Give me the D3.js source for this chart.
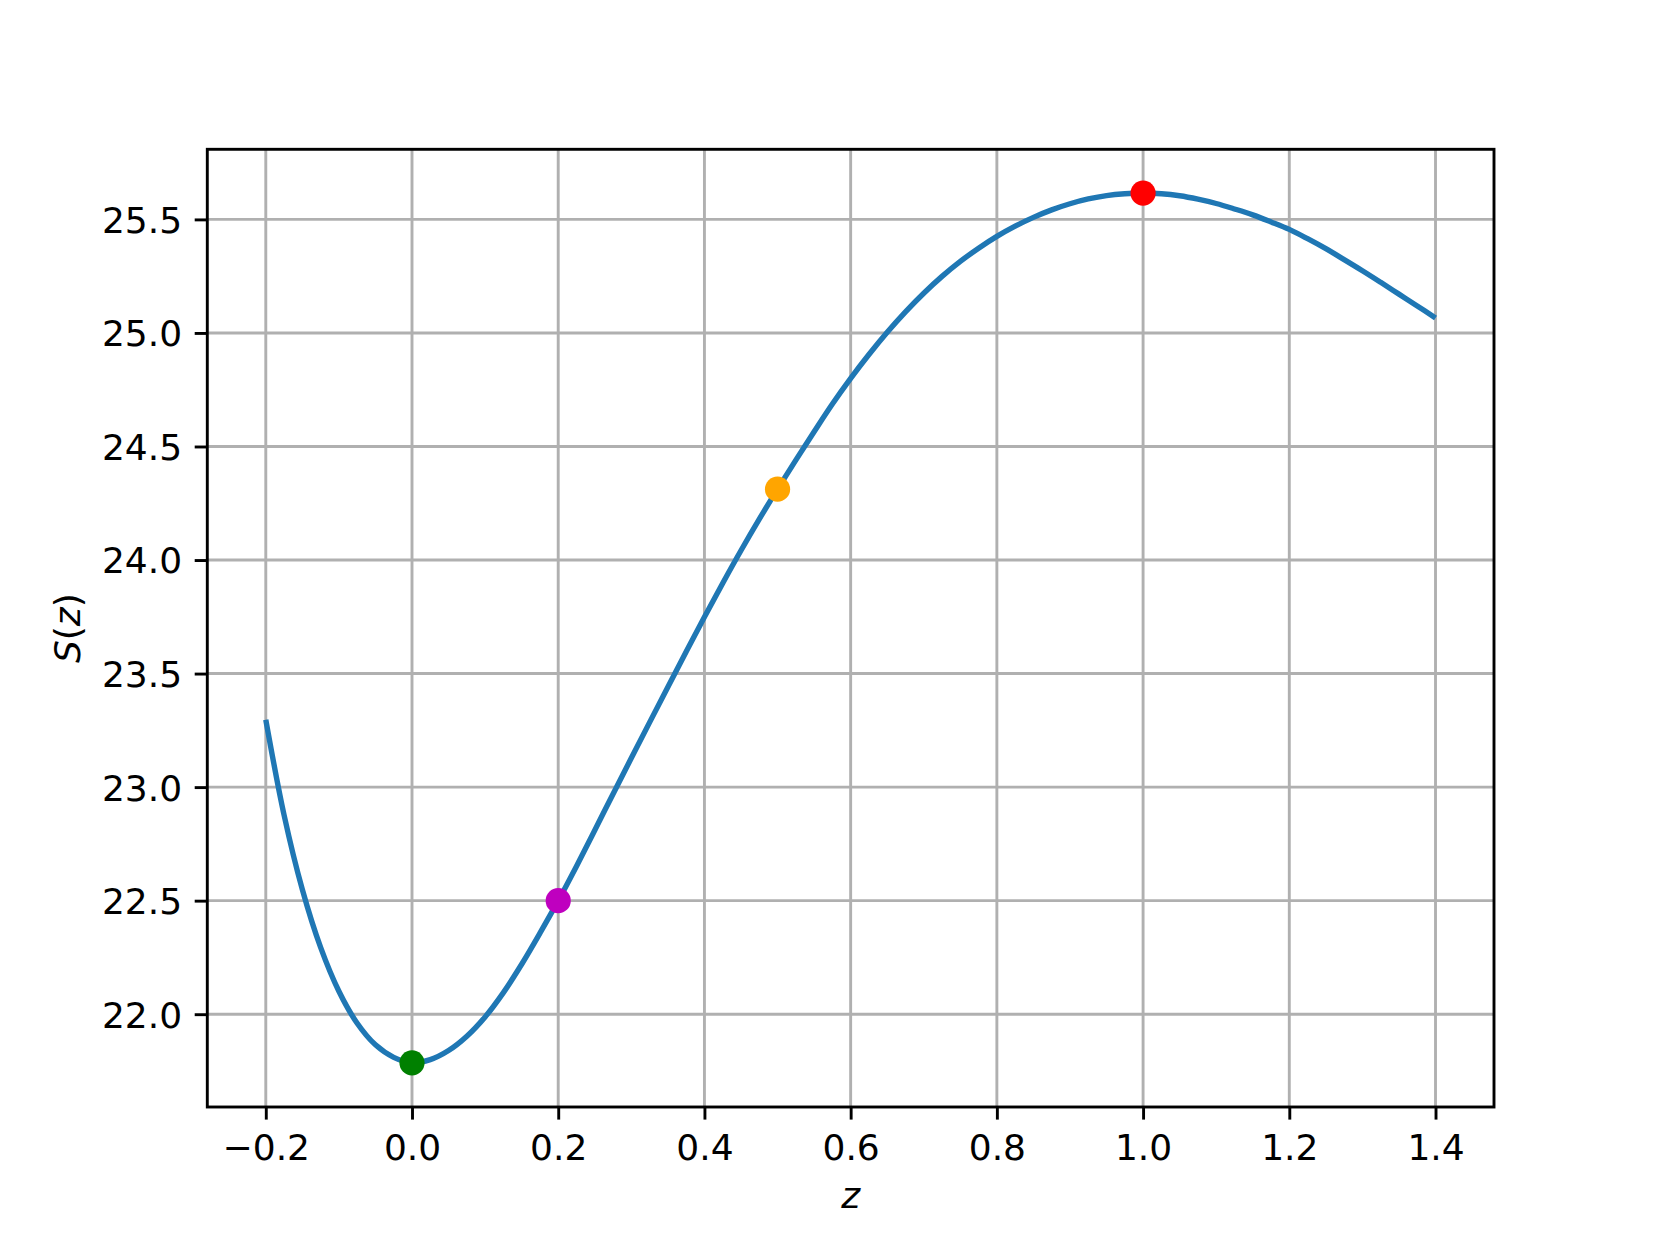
<!DOCTYPE html>
<html>
<head>
<meta charset="utf-8">
<script src="https://cdn.jsdelivr.net/npm/d3@7"></script>
<style>
  body { margin: 0; background: #fff; }
  svg text { font-family: "DejaVu Sans", sans-serif; fill: #000; }
</style>
</head>
<body>
<svg id="chart" width="1660" height="1245"></svg>
<script>
// curve S(z), values every 0.025
const zValues = [-0.2, -0.175, -0.15, -0.125, -0.1, -0.075, -0.05, -0.025,
  0, 0.025, 0.05, 0.075, 0.1, 0.125, 0.15, 0.175,
  0.2, 0.225, 0.25, 0.275, 0.3, 0.325, 0.35, 0.375,
  0.4, 0.425, 0.45, 0.475, 0.5, 0.525, 0.55, 0.575,
  0.6, 0.625, 0.65, 0.675, 0.7, 0.725, 0.75, 0.775,
  0.8, 0.825, 0.85, 0.875, 0.9, 0.925, 0.95, 0.975,
  1.0, 1.025, 1.05, 1.075, 1.1, 1.125, 1.15, 1.175,
  1.2, 1.225, 1.25, 1.275, 1.3, 1.325, 1.35, 1.375, 1.4];
const sValues = [23.297, 22.877, 22.549, 22.294, 22.101, 21.96, 21.865, 21.81,
  21.786, 21.80, 21.84, 21.903, 21.988, 22.095, 22.22, 22.357,
  22.50, 22.652, 22.81, 22.97, 23.128, 23.285, 23.441, 23.596,
  23.749, 23.898, 24.042, 24.18, 24.312, 24.44, 24.565, 24.687,
  24.80, 24.905, 25.003, 25.093, 25.175, 25.249, 25.315, 25.373,
  25.425, 25.47, 25.509, 25.542, 25.569, 25.59, 25.605, 25.613,
  25.616, 25.613, 25.604, 25.589, 25.57, 25.546, 25.52, 25.489,
  25.456, 25.415, 25.371, 25.323, 25.274, 25.223, 25.171, 25.119, 25.066];

// highlighted points
const pointZ = [0.0, 0.2, 0.5, 1.0];
const pointS = [21.786, 22.5, 24.312, 25.616];
const pointColors = ['green', '#bf00bf', 'orange', 'red'];

const xTicks = [-0.2, 0.0, 0.2, 0.4, 0.6, 0.8, 1.0, 1.2, 1.4];
const yTicks = [22.0, 22.5, 23.0, 23.5, 24.0, 24.5, 25.0, 25.5];

const margin = { top: 149.3, right: 166, bottom: 138, left: 207.3 },
  width = 1660 - margin.left - margin.right,
  height = 1245 - margin.top - margin.bottom;

const svg = d3.select('#chart')
  .append('g')
  .attr('transform', 'translate(' + margin.left + ',' + margin.top + ')');

const x = d3.scaleLinear().domain([-0.28, 1.48]).range([0, width]);
const y = d3.scaleLinear().domain([21.5913, 25.8087]).range([height, 0]);

const fmt = v => d3.format('.1f')(v).replace('-', '\u2212');

// grid
svg.append('g')
  .selectAll('line')
  .data(xTicks)
  .enter()
  .append('line')
  .attr('x1', d => x(d)).attr('x2', d => x(d))
  .attr('y1', 0).attr('y2', height)
  .attr('stroke', '#b0b0b0').attr('stroke-width', 2.9);

svg.append('g')
  .selectAll('line')
  .data(yTicks)
  .enter()
  .append('line')
  .attr('y1', d => y(d)).attr('y2', d => y(d))
  .attr('x1', 0).attr('x2', width)
  .attr('stroke', '#b0b0b0').attr('stroke-width', 2.9);

// curve
const data = zValues.map((z, i) => ({ z: z, s: sValues[i] }));
svg.append('path')
  .datum(data)
  .attr('fill', 'none')
  .attr('stroke', '#1f77b4')
  .attr('stroke-width', 5.4)
  .attr('d', d3.line().x(d => x(d.z)).y(d => y(d.s)).curve(d3.curveCatmullRom.alpha(0.5)));

// points
svg.append('g')
  .selectAll('circle')
  .data(pointZ)
  .enter()
  .append('circle')
  .attr('cx', d => x(d))
  .attr('cy', (d, i) => y(pointS[i]))
  .attr('r', 12.6)
  .attr('fill', (d, i) => pointColors[i]);

// axes
const xAxis = svg.append('g')
  .attr('transform', 'translate(0,' + height + ')')
  .call(d3.axisBottom(x).tickValues(xTicks).tickSize(12.6).tickPadding(12.6).tickFormat(fmt));
const yAxis = svg.append('g')
  .call(d3.axisLeft(y).tickValues(yTicks).tickSize(12.6).tickPadding(12.6).tickFormat(fmt));

[xAxis, yAxis].forEach(a => {
  a.select('.domain').remove();
  a.selectAll('line').attr('stroke', '#000').attr('stroke-width', 2.9);
  a.selectAll('text').attr('font-size', 36).attr('font-family', '"DejaVu Sans", sans-serif').attr('fill', '#000');
});
xAxis.selectAll('text').attr('dy', null).attr('y', 0).attr('dominant-baseline', 'auto')
  .attr('transform', 'translate(0,53)');
yAxis.selectAll('text').attr('dy', '0.36em');

// frame
svg.append('rect')
  .attr('width', width).attr('height', height)
  .attr('fill', 'none').attr('stroke', '#000').attr('stroke-width', 2.9);

// axis labels
svg.append('text')
  .attr('x', width / 2)
  .attr('y', height + 101)
  .attr('text-anchor', 'middle')
  .attr('font-size', 36)
  .attr('font-style', 'italic')
  .text('z');

const yl = svg.append('text')
  .attr('transform', 'translate(' + (80 - margin.left) + ',' + height / 2 + ') rotate(-90)')
  .attr('text-anchor', 'middle')
  .attr('font-size', 36);
yl.append('tspan').attr('font-style', 'italic').text('S');
yl.append('tspan').text('(');
yl.append('tspan').attr('font-style', 'italic').text('z');
yl.append('tspan').text(')');
</script>
</body>
</html>
